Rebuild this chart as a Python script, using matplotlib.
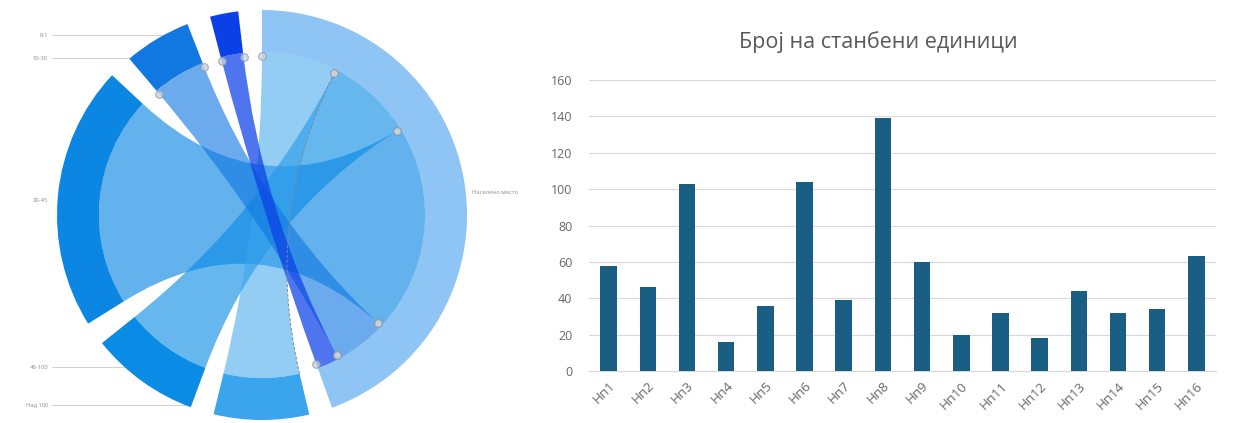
import numpy as np
import matplotlib
matplotlib.use("Agg")
import matplotlib.pyplot as plt
from matplotlib.path import Path
from matplotlib.patches import PathPatch, Wedge

plt.rcParams['font.family'] = ['Open Sans', 'DejaVu Sans']

# ---------------- data ----------------
groups = ["0-1", "10-30", "30-45", "46-100", "Над 100"]
group_values = [8, 19, 75, 31, 27]
target_name = "Населено место"
group_colors = ["#0a40e6", "#1178e2", "#0b86e3", "#0a8be6", "#3aa5ec"]
target_color = "#8ec5f4"

categories = ["Нп1", "Нп2", "Нп3", "Нп4", "Нп5", "Нп6", "Нп7", "Нп8",
              "Нп9", "Нп10", "Нп11", "Нп12", "Нп13", "Нп14", "Нп15", "Нп16"]
units = [58, 46, 103, 16, 36, 104, 39, 139, 60, 20, 32, 18, 44, 32, 34, 63]
title = "Број на станбени единици"

fig = plt.figure(figsize=(12.33, 4.23), dpi=100)

# ---------------- chord diagram ----------------
ax1 = fig.add_axes([0, 0, 530 / 1233, 1])
ax1.set_xlim(0, 530)
ax1.set_ylim(0, 423)
ax1.set_aspect('equal')
ax1.axis('off')

cx, cy = 262, 208
R_out, R_in = 205, 163
total = sum(group_values)
deg_per = 1.0
gap = (360 - 2 * total * deg_per) / 6

# target node: clockwise from top
t_start = 90 - total * deg_per
ax1.add_patch(Wedge((cx, cy), R_out, t_start, 90, width=R_out - R_in,
                    facecolor=target_color, edgecolor='none'))

# source nodes (counter-clockwise after the target)
src_ranges = []
a = 90 + gap
for v in group_values:
    src_ranges.append((a, a + v * deg_per))
    a = a + v * deg_per + gap

# target sub-ranges: clockwise from top in reverse group order
tgt_ranges = [None] * len(groups)
top = 90.0
for i in reversed(range(len(groups))):
    tgt_ranges[i] = (top - group_values[i] * deg_per, top)
    top -= group_values[i] * deg_per

for (a1, a2), col in zip(src_ranges, group_colors):
    ax1.add_patch(Wedge((cx, cy), R_out, a1, a2, width=R_out - R_in,
                        facecolor=col, edgecolor='none'))


def pt(ang, r=R_in):
    t = np.deg2rad(ang)
    return (cx + r * np.cos(t), cy + r * np.sin(t))


def arc(a1, a2, n=60):
    return [pt(t) for t in np.linspace(a1, a2, n)]


def ribbon(sa, ta):
    a1, a2 = sa
    b1, b2 = ta
    verts, codes = [], []
    pts = arc(a1, a2)
    verts += pts
    codes += [Path.MOVETO] + [Path.LINETO] * (len(pts) - 1)
    verts += [(cx, cy), pt(b1)]
    codes += [Path.CURVE3, Path.CURVE3]
    pts = arc(b1, b2)
    verts += pts[1:]
    codes += [Path.LINETO] * (len(pts) - 1)
    verts += [(cx, cy), pt(a1)]
    codes += [Path.CURVE3, Path.CURVE3]
    verts.append(pt(a1))
    codes.append(Path.CLOSEPOLY)
    return Path(verts, codes)


draw_order = [2, 3, 4, 1, 0]
alphas = {0: 0.72, 1: 0.62, 2: 0.64, 3: 0.62, 4: 0.55}
for i in draw_order:
    p = ribbon(src_ranges[i], tgt_ranges[i])
    ax1.add_patch(PathPatch(p, facecolor=group_colors[i], alpha=alphas[i],
                            edgecolor='none', zorder=2 + draw_order.index(i)))

# dashed edge of the "Над 100" ribbon
i = 4
a1, a2 = src_ranges[i]
b1, b2 = tgt_ranges[i]
pth = Path([pt(a2), (cx, cy), pt(b1)], [Path.MOVETO, Path.CURVE3, Path.CURVE3])
ax1.add_patch(PathPatch(pth, facecolor='none', edgecolor='#7a8a99',
                        lw=0.7, ls=(0, (3, 2)), zorder=8))

# small handle markers at ribbon ends
mx, my = [], []
for i in range(len(groups)):
    for ang in tgt_ranges[i]:
        x, y = pt(ang, R_in - 4)
        mx.append(x); my.append(y)
for i in [0, 1]:
    for ang in src_ranges[i]:
        x, y = pt(ang, R_in - 4)
        mx.append(x); my.append(y)
ax1.plot(mx, my, 'o', ms=5.5, mfc='#c8d4de', mec='#8a97a3', mew=0.8,
         alpha=0.75, zorder=9)

# labels with leader lines
label_y = [388, 365, 223, 56, 18]
for name, ly in zip(groups, label_y):
    dy = ly - cy
    xe = cx - np.sqrt(max(R_out ** 2 - dy ** 2, 0))
    ax1.text(48, ly, name, ha='right', va='center', fontsize=4.2, color='#8c8c8c')
    if abs(dy) > 120:
        ax1.plot([52, xe], [ly, ly], color='#d0d0d0', lw=0.7, zorder=0)
ax1.text(472, 231, target_name, ha='left', va='center', fontsize=4.2, color='#8c8c8c')

# ---------------- bar chart ----------------
ax2 = fig.add_axes([589 / 1233, 52 / 423, 627 / 1233, 291 / 423])
x = np.arange(len(categories))
ax2.bar(x, units, width=0.42, color='#1b5e84', zorder=3)
ax2.set_xlim(-0.5, len(categories) - 0.5)
ax2.set_ylim(0, 160)
ax2.set_yticks(np.arange(0, 161, 20))
ax2.yaxis.grid(True, color='#d9d9d9', lw=0.8, zorder=0)
for s in ['top', 'right', 'left']:
    ax2.spines[s].set_visible(False)
ax2.spines['bottom'].set_color('#d9d9d9')
ax2.tick_params(axis='y', length=0, pad=12, labelsize=9, labelcolor='#666666')
ax2.tick_params(axis='x', length=0, pad=6, labelsize=9.5, labelcolor='#666666')
ax2.set_xticks(x)
ax2.set_xticklabels(categories, rotation=45, ha='right', rotation_mode='anchor')

fig.text(878 / 1233, 1 - 42 / 423, title, ha='center', va='center',
         fontsize=15.5, color='#595959')

fig.savefig("out.png", dpi=100)
